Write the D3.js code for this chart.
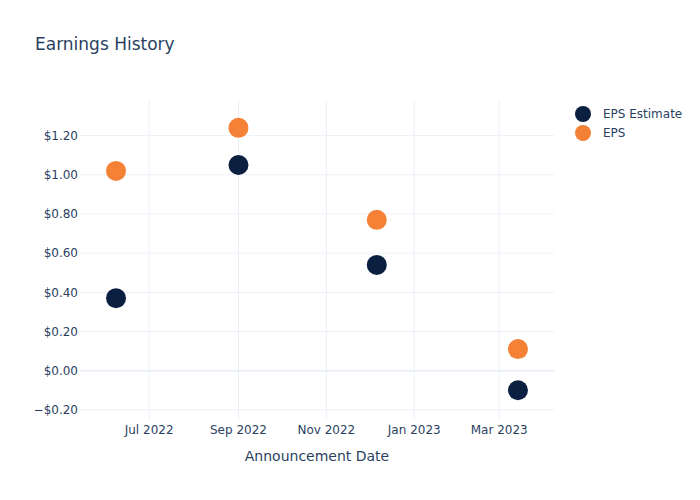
<!DOCTYPE html>
<html><head><meta charset="utf-8">
<script src="https://cdn.jsdelivr.net/npm/d3@7"></script>
<style>body{margin:0;background:#fff;} text{font-family:"DejaVu Sans",Verdana,sans-serif;}</style>
</head><body>
<svg id="chart" width="700" height="500"></svg>
<script>
const dates = ["2022-06-08", "2022-09-01", "2022-12-06", "2023-03-14"];
const epsEstimate = [0.37, 1.05, 0.54, -0.10];
const eps = [1.02, 1.24, 0.77, 0.11];
const seriesNames = ["EPS Estimate", "EPS"];
const seriesColors = ["#0b1f41", "#f58137"];
const yTicks = [-0.2, 0, 0.2, 0.4, 0.6, 0.8, 1.0, 1.2];
const xTicks = ["2022-07-01", "2022-09-01", "2022-11-01", "2023-01-01", "2023-03-01"];

const parse = d3.utcParse("%Y-%m-%d");
const svg = d3.select("#chart");
const W = 700, H = 500, m = {l: 80, r: 146, t: 100, b: 80};
const x = d3.scaleUtc().domain([parse("2022-05-14"), parse("2023-04-08")]).range([m.l, W - m.r]);
const y = d3.scaleLinear().domain([-0.252, 1.382]).range([H - m.b, m.t]);
const txt = "#2a3f5f", grid = "#ebf0f8";

// grid
svg.append("g").selectAll("line").data(xTicks).join("line")
  .attr("x1", d => x(parse(d))).attr("x2", d => x(parse(d)))
  .attr("y1", m.t).attr("y2", H - m.b).attr("stroke", grid).attr("stroke-width", 1);
svg.append("g").selectAll("line").data(yTicks).join("line")
  .attr("x1", m.l).attr("x2", W - m.r)
  .attr("y1", d => y(d)).attr("y2", d => y(d))
  .attr("stroke", grid).attr("stroke-width", d => d === 0 ? 2 : 1);

// axes labels
const fmt = d => (d < 0 ? "\u2212" : "") + "$" + Math.abs(d).toFixed(2);
svg.append("g").selectAll("text").data(yTicks).join("text")
  .attr("x", m.l - 2).attr("y", d => y(d)).attr("dy", "0.35em")
  .attr("text-anchor", "end").attr("font-size", 12).attr("fill", txt).text(fmt);
const xfmt = d3.utcFormat("%b %Y");
svg.append("g").selectAll("text").data(xTicks).join("text")
  .attr("x", d => x(parse(d))).attr("y", H - m.b + 5).attr("dy", "0.71em")
  .attr("text-anchor", "middle").attr("font-size", 12).attr("fill", txt).text(d => xfmt(parse(d)));

svg.append("text").attr("x", (m.l + W - m.r) / 2).attr("y", 461)
  .attr("text-anchor", "middle").attr("font-size", 14).attr("fill", txt).text("Announcement Date");
svg.append("text").attr("x", 35).attr("y", 50)
  .attr("font-size", 17).attr("fill", txt).text("Earnings History");

// points
[epsEstimate, eps].forEach((vals, i) => {
  svg.append("g").selectAll("circle").data(vals).join("circle")
    .attr("cx", (d, j) => x(parse(dates[j]))).attr("cy", d => y(d))
    .attr("r", 10).attr("fill", seriesColors[i]);
});

// legend
const lg = svg.append("g");
seriesNames.forEach((n, i) => {
  lg.append("circle").attr("cx", 583).attr("cy", 114 + i * 19).attr("r", 8).attr("fill", seriesColors[i]);
  lg.append("text").attr("x", 603).attr("y", 114 + i * 19).attr("dy", "0.35em")
    .attr("font-size", 12).attr("fill", txt).text(n);
});
</script>
</body></html>
